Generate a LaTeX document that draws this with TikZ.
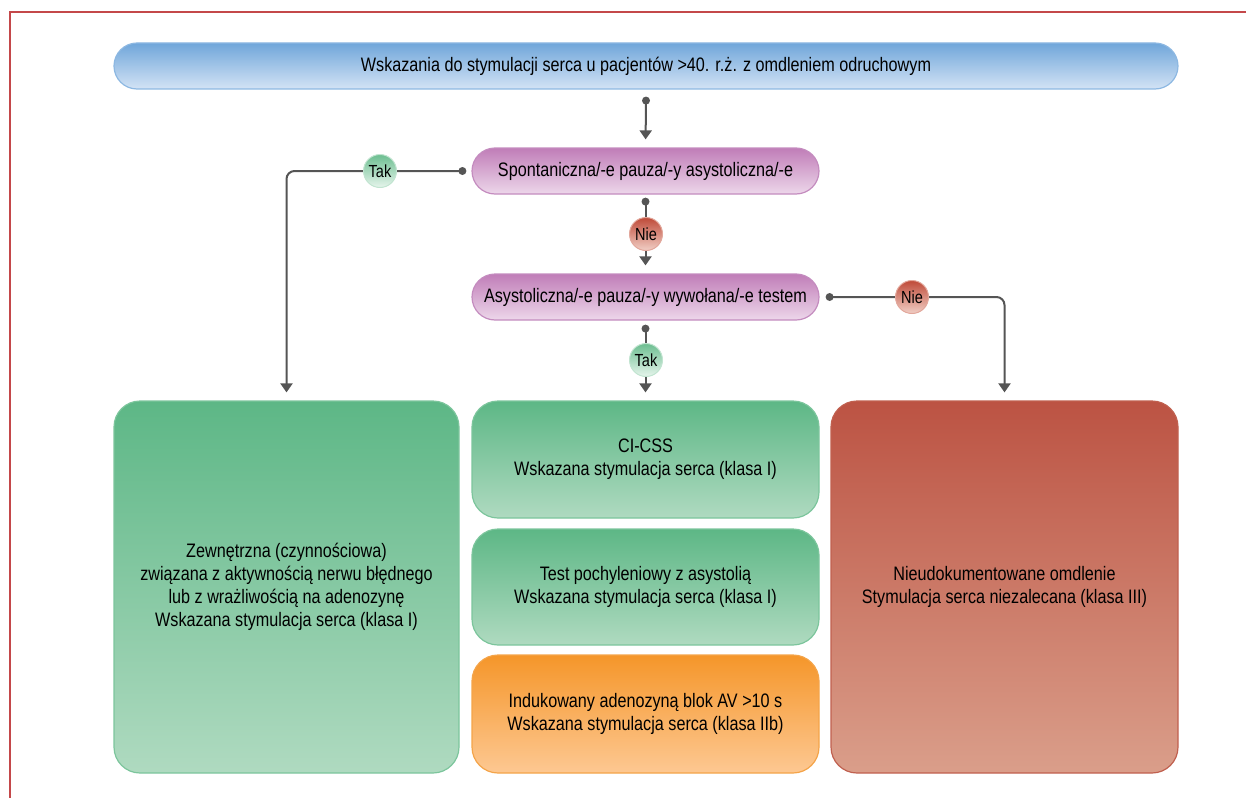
\documentclass[tikz,border=0pt]{standalone}
\usepackage{fontspec}
\setmainfont[FakeStretch=0.83]{Liberation Sans}
\usetikzlibrary{arrows.meta,calc}

\definecolor{framered}{HTML}{C4484A}
\definecolor{linegray}{HTML}{555555}
\definecolor{blueTop}{HTML}{70A6DA}
\definecolor{blueBot}{HTML}{D3E3F5}
\definecolor{blueEdge}{HTML}{8DB8E2}
\definecolor{purpTop}{HTML}{C07DB8}
\definecolor{purpBot}{HTML}{EDD7EA}
\definecolor{purpEdge}{HTML}{C48CBF}
\definecolor{greenTop}{HTML}{5DB786}
\definecolor{greenBot}{HTML}{AFDAC0}
\definecolor{greenEdge}{HTML}{7CC59C}
\definecolor{orTop}{HTML}{F5962A}
\definecolor{orBot}{HTML}{FDC892}
\definecolor{orEdge}{HTML}{F4A449}
\definecolor{redTop}{HTML}{BC5343}
\definecolor{redBot}{HTML}{DA9E8A}
\definecolor{redEdge}{HTML}{C0604F}
\definecolor{yesTop}{HTML}{6CBE90}
\definecolor{yesBot}{HTML}{E6F5EC}
\definecolor{noTop}{HTML}{BF4A38}
\definecolor{noBot}{HTML}{F1CFC6}

\begin{document}
\begin{tikzpicture}[x=1pt,y=-1pt,
  txt/.style={font=\fontsize{19.5pt}{23pt}\selectfont, text=black, align=center},
  pill/.style={txt, rectangle, rounded corners=23pt, minimum height=46pt,
    line width=1.2pt, inner sep=0pt},
  blockbox/.style={txt, rectangle, rounded corners=26pt, line width=1.2pt,
    minimum width=347pt, inner sep=0pt},
  bluefill/.style={top color=blueTop, bottom color=blueBot, draw=blueEdge},
  purplefill/.style={top color=purpTop, bottom color=purpBot, draw=purpEdge},
  greenfill/.style={top color=greenTop, bottom color=greenBot, draw=greenEdge},
  orangefill/.style={top color=orTop, bottom color=orBot, draw=orEdge},
  redfill/.style={top color=redTop, bottom color=redBot, draw=redEdge},
  answer/.style={circle, minimum size=33pt, inner sep=0pt, line width=1pt,
    font=\fontsize{17.5pt}{18pt}\selectfont, text=black},
  yes/.style={answer, top color=yesTop, bottom color=yesBot, draw=yesBot!70!yesTop},
  no/.style={answer, top color=noTop, bottom color=noBot, draw=noBot!70!noTop},
  conn/.style={draw=linegray, line width=2pt, rounded corners=8pt,
    -{Triangle[length=9pt,width=12pt]}, shorten >=8pt},
  dotmark/.style={fill=linegray}
]
\useasboundingbox (0,0) rectangle (1246,797);

% outer frame
\draw[framered, line width=2pt] (10,800) -- (10,12) -- (1250,12);

% boxes
\node[pill, bluefill, minimum width=1064pt] (top) at (646,66)
  {Wskazania do stymulacji serca u pacjentów >40. r.ż. z omdleniem odruchowym};
\node[pill, purplefill, minimum width=347pt] (spont) at (645.5,171)
  {Spontaniczna/-e pauza/-y asystoliczna/-e};
\node[pill, purplefill, minimum width=347pt] (test) at (645.5,297)
  {Asystoliczna/-e pauza/-y wywołana/-e testem};

\node[blockbox, greenfill, minimum width=345pt, minimum height=372pt] (ext) at (286.5,587)
  {Zewnętrzna (czynnościowa)\\związana z aktywnością nerwu błędnego\\lub z wrażliwością na adenozynę\\Wskazana stymulacja serca (klasa I)};
\node[blockbox, greenfill, minimum height=117pt] (cicss) at (645.5,459.5)
  {CI-CSS\\Wskazana stymulacja serca (klasa I)};
\node[blockbox, greenfill, minimum height=116pt] (tilt) at (645.5,587)
  {Test pochyleniowy z asystolią\\Wskazana stymulacja serca (klasa I)};
\node[blockbox, orangefill, minimum height=118pt] (adeno) at (645.5,714)
  {Indukowany adenozyną blok AV >10 s\\Wskazana stymulacja serca (klasa IIb)};
\node[blockbox, redfill, minimum height=372pt] (undoc) at (1004.5,587)
  {Nieudokumentowane omdlenie\\Stymulacja serca niezalecana (klasa III)};

% connector start points
\coordinate (s0) at ($(top.south)+(0,11)$);
\coordinate (s1) at ($(spont.west)+(-9,0)$);
\coordinate (s2) at ($(spont.south)+(0,7)$);
\coordinate (s3) at ($(test.east)+(10,0)$);
\coordinate (s4) at ($(test.south)+(0,8)$);

% connectors
\draw[conn] (s0) -- (spont.north);
\draw[conn] (s1) -| (ext.north);
\draw[conn] (s2) -- (test.north);
\draw[conn] (s3) -| (undoc.north);
\draw[conn] (s4) -- (cicss.north);
\foreach \p in {s0,s1,s2,s3,s4} \fill[dotmark] (\p) circle (4pt);

% answer labels
\node[yes] (yesL) at (380,171) {Tak};
\node[no] (noC) at (646,234) {Nie};
\node[no] (noR) at (912,297) {Nie};
\node[yes] (yesC) at (646,360) {Tak};
\end{tikzpicture}
\end{document}
